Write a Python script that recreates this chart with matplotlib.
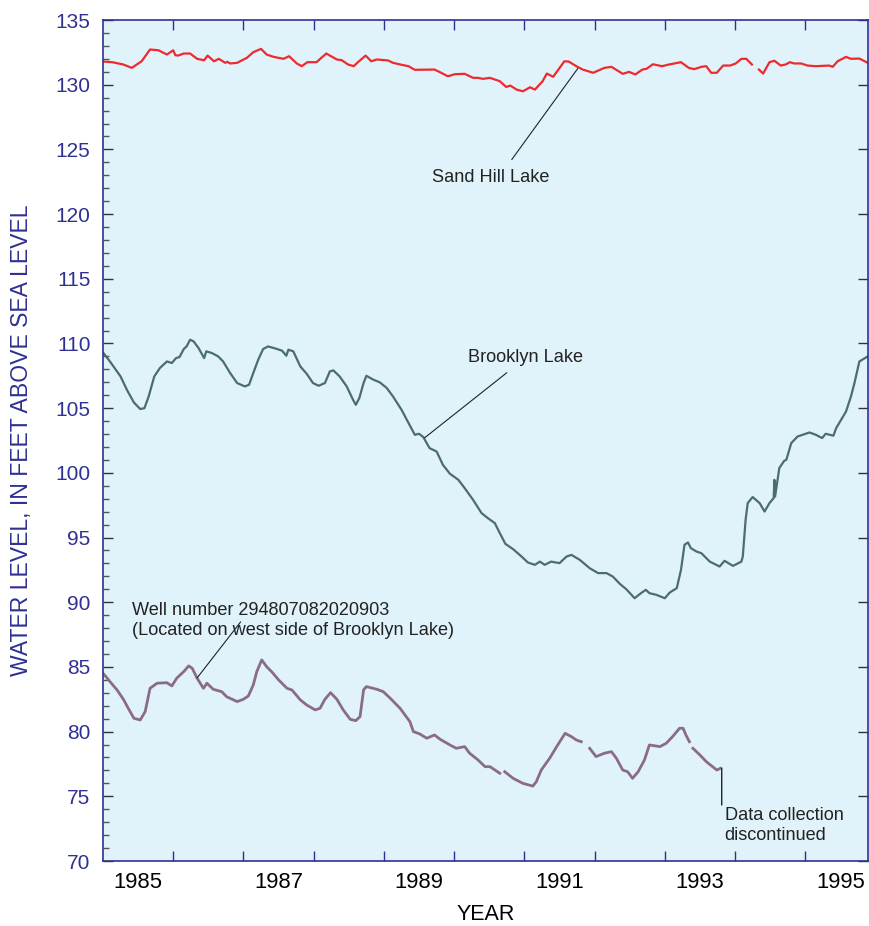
import numpy as np
import matplotlib
matplotlib.use("Agg")
import matplotlib.pyplot as plt
from matplotlib.ticker import FixedLocator, MultipleLocator, NullFormatter

nan = np.nan

sand_year = [1985.00, 1985.13, 1985.29, 1985.41, 1985.55, 1985.67, 1985.79, 1985.91, 1986.00, 1986.03,
             1986.07, 1986.15, 1986.24, 1986.34, 1986.44, 1986.49, 1986.58, 1986.65, 1986.74, 1986.77,
             1986.81, 1986.91, 1987.05, 1987.14, 1987.25, 1987.33, 1987.43, 1987.57, 1987.65, 1987.76,
             1987.83, 1987.91, 1988.04, 1988.11, 1988.18, 1988.23, 1988.33, 1988.40, 1988.49, 1988.57,
             1988.63, 1988.74, 1988.82, 1988.90, 1989.06, 1989.13, 1989.25, 1989.35, 1989.44, 1989.72,
             1989.80, 1989.91, 1990.01, 1990.15, 1990.27, 1990.34, 1990.41, 1990.51, 1990.65, 1990.74,
             1990.80, 1990.89, 1990.98, 1991.08, 1991.15, 1991.26, 1991.32, 1991.41, 1991.57, 1991.63,
             1991.74, 1991.83, 1991.98, 1992.14, 1992.24, 1992.40, 1992.49, 1992.58, 1992.68, 1992.74,
             1992.83, 1992.96, 1993.06, 1993.23, 1993.34, 1993.42, 1993.52, 1993.59, 1993.66, 1993.74,
             1993.83, 1993.93, 1994.01, 1994.09, 1994.16, 1994.24, 1994.29, 1994.34, 1994.40, 1994.49,
             1994.56, 1994.65, 1994.72, 1994.78, 1994.84, 1994.94, 1995.03, 1995.15, 1995.34, 1995.39,
             1995.46, 1995.58, 1995.65, 1995.77, 1995.89]
sand_level = [131.79, 131.74, 131.56, 131.30, 131.81, 132.72, 132.66, 132.33, 132.66, 132.28,
              132.25, 132.41, 132.41, 132.00, 131.89, 132.25, 131.81, 132.00, 131.69, 131.77,
              131.64, 131.69, 132.08, 132.51, 132.77, 132.33, 132.15, 132.00, 132.20, 131.64,
              131.43, 131.74, 131.74, 132.08, 132.41, 132.25, 131.95, 131.89, 131.56, 131.43,
              131.74, 132.25, 131.81, 131.95, 131.87, 131.69, 131.54, 131.43, 131.15, 131.17,
              130.96, 130.65, 130.81, 130.84, 130.53, 130.53, 130.45, 130.53, 130.27, 129.83,
              129.93, 129.62, 129.49, 129.80, 129.62, 130.27, 130.86, 130.61, 131.81, 131.79,
              131.43, 131.17, 130.92, 131.30, 131.38, 130.84, 130.99, 130.79, 131.17, 131.23,
              131.58, 131.43, 131.56, 131.74, 131.30, 131.20, 131.38, 131.43, 130.92, 130.92,
              131.48, 131.48, 131.64, 132.00, 132.00, 131.56, nan, 131.17, 130.86, 131.74,
              131.85, 131.48, 131.56, 131.74, 131.64, 131.64, 131.48, 131.43, 131.48, 131.38,
              131.81, 132.15, 132.00, 132.02, 131.69]

brooklyn_year = [1985.00, 1985.10, 1985.25, 1985.34, 1985.44, 1985.53, 1985.59, 1985.65, 1985.73, 1985.81,
                 1985.91, 1985.98, 1986.04, 1986.09, 1986.15, 1986.19, 1986.24, 1986.29, 1986.36, 1986.44,
                 1986.47, 1986.55, 1986.64, 1986.71, 1986.81, 1986.91, 1987.02, 1987.08, 1987.14, 1987.21,
                 1987.28, 1987.35, 1987.45, 1987.55, 1987.61, 1987.64, 1987.71, 1987.81, 1987.90, 1987.99,
                 1988.07, 1988.16, 1988.23, 1988.28, 1988.37, 1988.47, 1988.56, 1988.60, 1988.65, 1988.71,
                 1988.75, 1988.85, 1988.94, 1989.04, 1989.13, 1989.25, 1989.35, 1989.44, 1989.50, 1989.56,
                 1989.65, 1989.75, 1989.84, 1989.94, 1990.06, 1990.15, 1990.27, 1990.39, 1990.48, 1990.58,
                 1990.65, 1990.73, 1990.84, 1990.96, 1991.05, 1991.15, 1991.22, 1991.29, 1991.38, 1991.50,
                 1991.60, 1991.67, 1991.79, 1991.93, 1992.05, 1992.17, 1992.26, 1992.36, 1992.45, 1992.57,
                 1992.66, 1992.73, 1992.78, 1992.88, 1993.00, 1993.07, 1993.17, 1993.23, 1993.28, 1993.33,
                 1993.37, 1993.45, 1993.52, 1993.64, 1993.78, 1993.85, 1993.97, 1994.09, 1994.11, 1994.15,
                 1994.18, 1994.25, 1994.35, 1994.42, 1994.49, 1994.55, 1994.56, 1994.57, 1994.63, 1994.70,
                 1994.73, 1994.80, 1994.89, 1994.96, 1995.06, 1995.15, 1995.24, 1995.29, 1995.40, 1995.44,
                 1995.51, 1995.58, 1995.65, 1995.70, 1995.77, 1995.89]
brooklyn_level = [109.31, 108.60, 107.45, 106.42, 105.44, 104.93, 105.00, 105.90, 107.45, 108.10,
                  108.61, 108.49, 108.87, 108.95, 109.57, 109.77, 110.29, 110.16, 109.65, 108.87,
                  109.39, 109.26, 109.00, 108.61, 107.72, 106.94, 106.68, 106.81, 107.72, 108.74,
                  109.57, 109.77, 109.62, 109.44, 109.05, 109.52, 109.39, 108.22, 107.66, 106.94,
                  106.73, 106.94, 107.84, 107.92, 107.45, 106.68, 105.65, 105.26, 105.78, 106.94,
                  107.50, 107.20, 107.00, 106.56, 105.90, 104.88, 103.85, 102.94, 103.02, 102.77,
                  101.91, 101.65, 100.62, 99.93, 99.46, 98.82, 97.91, 96.89, 96.50, 96.11,
                  95.34, 94.51, 94.10, 93.53, 93.07, 92.89, 93.14, 92.89, 93.14, 93.02,
                  93.53, 93.66, 93.27, 92.63, 92.25, 92.25, 91.98, 91.42, 91.01, 90.31,
                  90.70, 90.96, 90.70, 90.57, 90.31, 90.75, 91.09, 92.50, 94.44, 94.62,
                  94.18, 93.92, 93.79, 93.14, 92.76, 93.20, 92.81, 93.14, 93.53, 96.37,
                  97.66, 98.13, 97.66, 97.01, 97.66, 98.05, 99.46, 98.17, 100.37, 100.93,
                  101.01, 102.30, 102.81, 102.94, 103.12, 102.94, 102.69, 103.02, 102.87, 103.46,
                  104.10, 104.74, 105.90, 106.94, 108.61, 109.00]

well_year = [1985.00, 1985.06, 1985.10, 1985.20, 1985.29, 1985.36, 1985.44, 1985.53, 1985.60, 1985.67,
             1985.77, 1985.91, 1985.98, 1986.05, 1986.15, 1986.22, 1986.27, 1986.34, 1986.43, 1986.48,
             1986.57, 1986.69, 1986.76, 1986.91, 1987.00, 1987.07, 1987.14, 1987.19, 1987.26, 1987.33,
             1987.40, 1987.50, 1987.62, 1987.69, 1987.81, 1987.90, 1988.02, 1988.09, 1988.16, 1988.24,
             1988.33, 1988.42, 1988.52, 1988.60, 1988.66, 1988.71, 1988.75, 1988.90, 1988.99, 1989.09,
             1989.23, 1989.37, 1989.42, 1989.51, 1989.61, 1989.72, 1989.80, 1989.94, 1990.03, 1990.15,
             1990.22, 1990.34, 1990.44, 1990.51, 1990.65, 1990.69, 1990.72, 1990.84, 1990.98, 1991.12,
             1991.17, 1991.24, 1991.36, 1991.46, 1991.58, 1991.67, 1991.74, 1991.81, 1991.87, 1991.93,
             1992.02, 1992.14, 1992.24, 1992.31, 1992.40, 1992.47, 1992.54, 1992.62, 1992.71, 1992.78,
             1992.93, 1993.02, 1993.11, 1993.21, 1993.26, 1993.30, 1993.35, 1993.38, 1993.40, 1993.50,
             1993.59, 1993.68, 1993.74, 1993.79]
well_level = [84.51, 84.13, 83.86, 83.22, 82.50, 81.80, 81.03, 80.90, 81.54, 83.35,
              83.74, 83.78, 83.53, 84.13, 84.64, 85.08, 84.90, 84.13, 83.35, 83.74,
              83.27, 83.09, 82.70, 82.32, 82.50, 82.76, 83.61, 84.64, 85.54, 85.02,
              84.64, 84.00, 83.35, 83.22, 82.45, 82.06, 81.68, 81.80, 82.50, 83.01,
              82.50, 81.68, 80.95, 80.85, 81.16, 83.22, 83.48, 83.27, 83.09, 82.58,
              81.80, 80.77, 80.00, 79.82, 79.49, 79.74, 79.41, 78.97, 78.71, 78.84,
              78.33, 77.81, 77.29, 77.29, 76.78, nan, 76.90, 76.39, 76.00, 75.79,
              76.13, 77.03, 77.94, 78.84, 79.87, 79.61, 79.35, 79.22, nan, 78.71,
              78.07, 78.33, 78.45, 77.94, 77.03, 76.90, 76.39, 76.90, 77.81, 78.97,
              78.84, 79.10, 79.61, 80.26, 80.26, 79.74, 79.22, nan, 78.71, 78.19,
              77.68, 77.29, 77.03, 77.16]

year_ticks = list(range(1986, 1996))
label_years = [1985, 1987, 1989, 1991, 1993, 1995]

navy = "#2e3192"
plt.rcParams["font.family"] = ["Liberation Sans", "DejaVu Sans"]

fig = plt.figure(figsize=(8.69, 9.26), dpi=100)
ax = fig.add_axes([103 / 869, 65 / 926, 765.5 / 869, 841 / 926])
ax.set_facecolor("#e0f3fa")

ax.plot(sand_year, sand_level, color="#ee2a2e", lw=1.6, solid_joinstyle="round")
ax.plot(brooklyn_year, brooklyn_level, color="#4b6e6d", lw=1.6, solid_joinstyle="round")
ax.plot(well_year, well_level, color="#8a6b8a", lw=2.0, solid_joinstyle="round")

ax.set_xlim(1985.0, 1995.9)
ax.set_ylim(70, 135)

# x ticks: year boundaries, labels centred in years
ax.xaxis.set_major_locator(FixedLocator(year_ticks))
ax.xaxis.set_major_formatter(NullFormatter())
ax.xaxis.set_minor_locator(FixedLocator([y + 0.5 for y in label_years]))
ax.set_xticklabels([str(y) for y in label_years], minor=True)
ax.tick_params(axis="x", which="major", direction="in", length=7, width=1, color=navy,
               top=True, bottom=True)
ax.tick_params(axis="x", which="minor", length=0, pad=8, labelsize=15.8, labelcolor="black",
               top=False, bottom=True)

ax.yaxis.set_major_locator(MultipleLocator(5))
ax.yaxis.set_minor_locator(MultipleLocator(1))
ax.tick_params(axis="y", which="major", direction="in", length=7, width=1, color="#333333",
               labelsize=15, labelcolor=navy, pad=9, left=True, right=True)
ax.tick_params(axis="y", which="minor", direction="in", length=4, width=1, color="#555555",
               left=True, right=False)

for s in ax.spines.values():
    s.set_color(navy)
    s.set_linewidth(1.2)

ax.set_xlabel("YEAR", fontsize=15.5, color="black", labelpad=8)
ax.set_ylabel("WATER LEVEL, IN FEET ABOVE SEA LEVEL", fontsize=16.6, color=navy, labelpad=16)

ann_kw = dict(fontsize=13.1, color="#222222")
line_kw = dict(arrowstyle="-", shrinkA=0, shrinkB=0, color="#222222", lw=0.8)

# Sand Hill Lake
ax.text(1990.52, 122.82, "Sand Hill Lake", ha="center", va="center", **ann_kw)
ax.annotate("", xy=(1991.76, 131.25), xytext=(1990.82, 124.21), arrowprops=line_kw)
# Brooklyn Lake
ax.text(1991.02, 108.90, "Brooklyn Lake", ha="center", va="center", **ann_kw)
ax.annotate("", xy=(1989.58, 102.71), xytext=(1990.75, 107.74), arrowprops=line_kw)
# Well
ax.text(1985.42, 88.56, "Well number 294807082020903\n(Located on west side of Brooklyn Lake)",
        ha="left", va="center", linespacing=1.25, **ann_kw)
ax.annotate("", xy=(1986.34, 84.15), xytext=(1986.96, 88.48), arrowprops=line_kw)
# discontinued
ax.annotate("", xy=(1993.81, 77.19), xytext=(1993.81, 74.33),
            arrowprops=dict(arrowstyle="-", shrinkA=0, shrinkB=0, color="#222222", lw=1.0))
ax.text(1993.85, 72.74, "Data collection\ndiscontinued", ha="left", va="center",
        linespacing=1.25, **ann_kw)

fig.savefig("out.png", dpi=100)
